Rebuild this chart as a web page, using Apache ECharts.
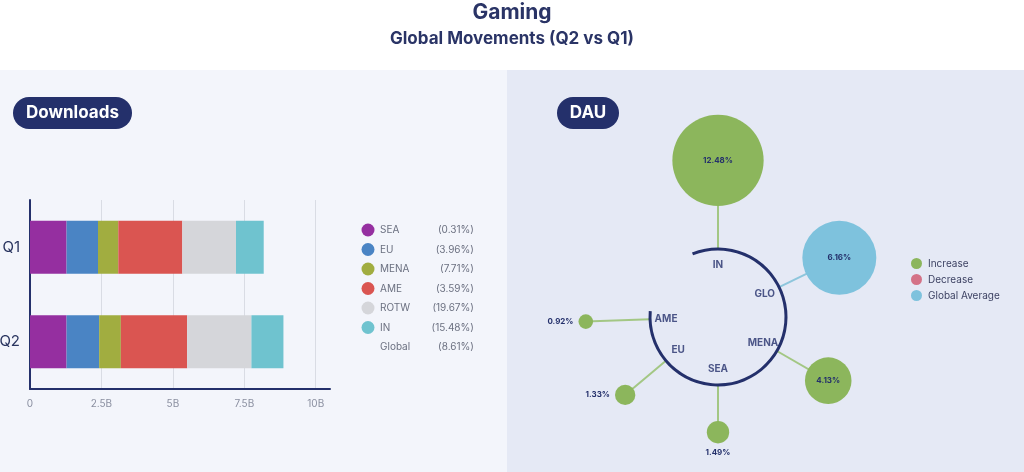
<!DOCTYPE html>
<html>
<head>
<meta charset="utf-8">
<title>Gaming - Global Movements</title>
<script src="https://cdn.jsdelivr.net/npm/echarts@6/dist/echarts.min.js"></script>
<style>
  html, body { margin: 0; padding: 0; background: #fff; }
  #main { width: 1024px; height: 472px; }
</style>
</head>
<body>
<div id="main"></div>
<script>
// downloads (billions) per region, stacked per quarter
var quarters = ['Q1', 'Q2'];
var regions = ['SEA', 'EU', 'MENA', 'AME', 'ROTW', 'IN'];
var q1Downloads = [1.28, 1.10, 0.71, 2.24, 1.88, 0.97];
var q2Downloads = [1.28, 1.14, 0.76, 2.32, 2.25, 1.12];
var downloadChange = [0.31, 3.96, 7.71, 3.59, 19.67, 15.48];
var globalDownloadChange = 8.61;
var xTicks = [0, 2.5, 5, 7.5, 10];

// DAU change Q2 vs Q1 (%)
var dauRegions = ['IN', 'GLO', 'MENA', 'SEA', 'EU', 'AME'];
var dauChange = [12.48, 6.16, 4.13, 1.49, 1.33, 0.92];
var dauKind = ['Increase', 'Global Average', 'Increase', 'Increase', 'Increase', 'Increase'];

// layout of the DAU ring (not data)
var RING_R = 68;
var spokeAngle = [90, 26, 330, 270, 220, 182];
var spokeGap = [43, 30, 36, 36, 43, 57];
var labelSide = ['inside', 'inside', 'inside', 'bottom', 'left', 'left'];

var NAVY = '#24306b';
var FONT = 'Inter, "Noto Sans", sans-serif';
var regionColors = ['#952fa0', '#4a84c4', '#a1ad40', '#da5551', '#d5d6da', '#6fc3cf'];
var kindColors = { 'Increase': '#8cb65c', 'Decrease': '#d47287', 'Global Average': '#7ec2dd' };
var spokeColors = { 'Increase': '#a3c784', 'Global Average': '#8ec6dc' };

var myChart = echarts.init(document.getElementById('main'));

function bubbleSize(i) {
    if (dauKind[i] === 'Global Average') return 74;
    return 29.8 * Math.sqrt(dauChange[i]) - 14;
}
function bubbleDist(i) {
    return RING_R + spokeGap[i] + bubbleSize(i) / 2;
}

var series = [];

// stacked bars
regions.forEach(function (r, i) {
    series.push({
        name: r,
        type: 'bar',
        stack: 'total',
        barWidth: 53,
        itemStyle: { color: regionColors[i] },
        data: [q1Downloads[i], q2Downloads[i]],
        silent: true
    });
});
// legend-only row for the global figure
series.push({
    name: 'Global',
    type: 'bar',
    stack: 'total',
    itemStyle: { color: 'rgba(0,0,0,0)' },
    data: []
});

// ring
series.push({
    type: 'gauge',
    center: [718, 317],
    radius: RING_R + 1.5,
    startAngle: 112,
    endAngle: -185,
    min: 0, max: 1,
    axisLine: { lineStyle: { width: 3, color: [[1, NAVY]] } },
    axisTick: { show: false },
    splitLine: { show: false },
    axisLabel: { show: false },
    pointer: { show: false },
    anchor: { show: false },
    title: { show: false },
    detail: { show: false },
    silent: true,
    data: [{ value: 0 }],
    z: 3
});

// spokes
dauRegions.forEach(function (r, i) {
    series.push({
        type: 'line',
        coordinateSystem: 'polar',
        symbol: 'none',
        silent: true,
        z: 1,
        lineStyle: { color: spokeColors[dauKind[i]], width: 2 },
        data: [[RING_R, spokeAngle[i]], [bubbleDist(i), spokeAngle[i]]]
    });
});

// region names inside the ring
series.push({
    type: 'scatter',
    coordinateSystem: 'polar',
    symbolSize: 1,
    silent: true,
    itemStyle: { color: 'rgba(0,0,0,0)' },
    label: {
        show: true, position: 'inside', formatter: '{b}',
        color: NAVY, fontFamily: FONT, fontWeight: 'bold', fontSize: 10
    },
    data: dauRegions.map(function (r, i) {
        return { name: r, value: [RING_R - 16, spokeAngle[i]] };
    })
});

// bubbles
['Increase', 'Decrease', 'Global Average'].forEach(function (kind) {
    var items = [];
    dauRegions.forEach(function (r, i) {
        if (dauKind[i] !== kind) return;
        items.push({
            name: r,
            value: [bubbleDist(i), spokeAngle[i]],
            pct: dauChange[i],
            symbolSize: bubbleSize(i),
            label: { position: labelSide[i] }
        });
    });
    series.push({
        name: kind,
        type: 'scatter',
        coordinateSystem: 'polar',
        z: 4,
        silent: true,
        itemStyle: { color: kindColors[kind], opacity: 1 },
        label: {
            show: true,
            distance: 5,
            color: NAVY, fontFamily: FONT, fontWeight: 'bold', fontSize: 8,
            formatter: function (p) { return p.data.pct.toFixed(2) + '%'; }
        },
        data: items
    });
});

var option = {
    animation: false,
    textStyle: { fontFamily: FONT },
    title: [
        { text: 'Gaming', left: 'center', top: -3,
          textStyle: { color: '#2a3466', fontSize: 21, fontWeight: 'bold', fontFamily: FONT } },
        { text: 'Global Movements (Q2 vs Q1)', left: 'center', top: 25,
          textStyle: { color: '#2a3466', fontSize: 17, fontWeight: 'bold', fontFamily: FONT } }
    ],
    graphic: [
        { type: 'rect', z: -10, silent: true, shape: { x: 0, y: 70, width: 507, height: 402 }, style: { fill: '#f3f5fb' } },
        { type: 'rect', z: -10, silent: true, shape: { x: 507, y: 70, width: 517, height: 402 }, style: { fill: '#e5e9f5' } },
        { type: 'rect', z: 5, silent: true, shape: { x: 13, y: 97, width: 119, height: 32, r: 16 }, style: { fill: NAVY } },
        { type: 'text', z: 6, silent: true, x: 72.5, y: 113,
          style: { text: 'Downloads', fill: '#fff', font: 'bold 17px ' + FONT, textAlign: 'center', textVerticalAlign: 'middle' } },
        { type: 'rect', z: 5, silent: true, shape: { x: 557, y: 97, width: 62, height: 32, r: 16 }, style: { fill: NAVY } },
        { type: 'text', z: 6, silent: true, x: 588, y: 113,
          style: { text: 'DAU', fill: '#fff', font: 'bold 17px ' + FONT, textAlign: 'center', textVerticalAlign: 'middle' } }
    ],
    legend: [
        {
            data: regions.concat('Global'),
            orient: 'vertical',
            left: 361.5, top: 223.5, padding: 0,
            itemWidth: 14, itemHeight: 13, itemGap: 6.5,
            icon: 'circle',
            selectedMode: false,
            formatter: function (name) {
                var i = regions.indexOf(name);
                var v = i < 0 ? globalDownloadChange : downloadChange[i];
                return '{n|' + name + '}{p|(' + v.toFixed(2) + '%)}';
            },
            textStyle: {
                rich: {
                    n: { width: 58, color: '#6b7080', fontSize: 10, lineHeight: 13, fontFamily: FONT },
                    p: { width: 36, align: 'right', color: '#6b7080', fontSize: 10, lineHeight: 13, fontFamily: FONT }
                }
            }
        },
        {
            data: ['Increase', 'Decrease', 'Global Average'],
            orient: 'vertical',
            left: 911, top: 258, padding: 0,
            itemWidth: 13, itemHeight: 11, itemGap: 5,
            icon: 'circle',
            selectedMode: false,
            textStyle: { color: '#3d4263', fontSize: 10, lineHeight: 11, fontFamily: FONT }
        }
    ],
    grid: { left: 30, right: 1024 - 330, top: 200, bottom: 472 - 389, containLabel: false, outerBoundsMode: 'none' },
    xAxis: {
        type: 'value',
        min: xTicks[0], max: 10.5, interval: 2.5,
        axisLine: { show: true, lineStyle: { color: NAVY, width: 2 } },
        axisTick: { show: false },
        splitLine: { show: true, showMaxLine: false, lineStyle: { color: '#d9dce4', width: 1 } },
        axisLabel: {
            showMaxLabel: false, color: '#8a8fa0', fontSize: 10, margin: 10,
            formatter: function (v) { return v === 0 ? '0' : v + 'B'; }
        }
    },
    yAxis: {
        type: 'category',
        data: quarters,
        inverse: true,
        axisLine: { show: true, lineStyle: { color: NAVY, width: 2 } },
        axisTick: { show: false },
        axisLabel: { color: '#2a3560', fontSize: 15, margin: 10 }
    },
    polar: { center: [718, 317], radius: 200 },
    angleAxis: { type: 'value', min: 0, max: 360, startAngle: 0, clockwise: false, show: false },
    radiusAxis: { type: 'value', min: 0, max: 200, show: false },
    series: series
};

myChart.setOption(option);
</script>
</body>
</html>
